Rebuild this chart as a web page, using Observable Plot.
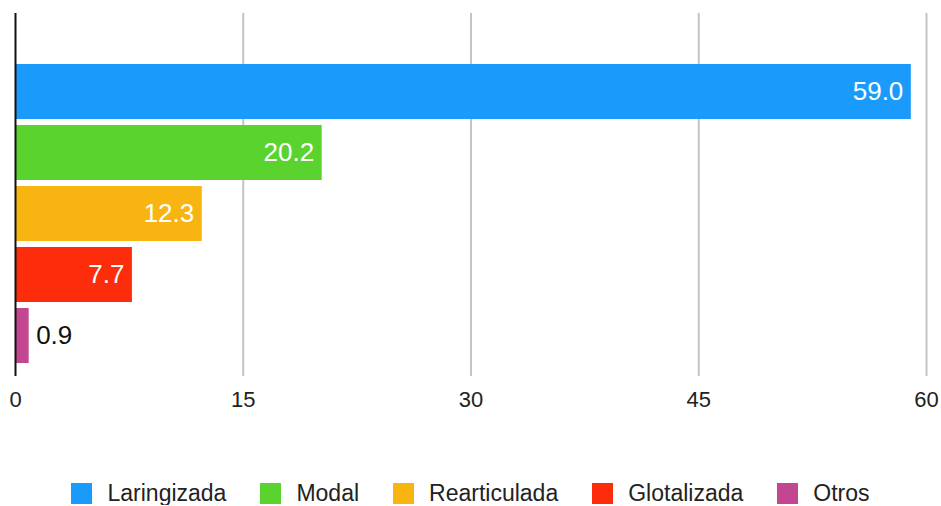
<!DOCTYPE html>
<html>
<head>
<meta charset="utf-8">
<script src="https://cdn.jsdelivr.net/npm/d3@7"></script>
<script src="https://cdn.jsdelivr.net/npm/@observablehq/plot@0.6"></script>
<style>
  html, body { margin: 0; padding: 0; background: #fff; }
  body { width: 941px; font-family: "Liberation Sans", Arial, Helvetica, sans-serif; }
  #legend { display: flex; justify-content: center; align-items: center; margin-top: 41px; height: 24px; font-size: 23px; color: #222; }
  .item { display: flex; align-items: center; margin: 0 17px; }
  .sw { width: 21px; height: 21px; margin-right: 15px; }
</style>
</head>
<body>
<div id="chart"></div>
<div id="legend"></div>
<script>
const categories = ["Laringizada", "Modal", "Rearticulada", "Glotalizada", "Otros"];
const values = [59.0, 20.2, 12.3, 7.7, 0.9];
const colors = ["#1a9bfc", "#5bd32e", "#f8b511", "#fd2c0a", "#c24690"];
const xTicks = [0, 15, 30, 45, 60];

const data = categories.map((c, i) => ({category: c, value: values[i]}));

const chart = Plot.plot({
  width: 941,
  height: 440,
  marginLeft: 15,
  marginRight: 15,
  marginTop: 13,
  marginBottom: 64,
  style: {fontFamily: "Liberation Sans, Arial, Helvetica, sans-serif", background: "#fff"},
  x: {domain: [0, 60], ticks: xTicks, tickSize: 0, tickPadding: 15, label: null},
  y: {domain: categories, paddingInner: 0.1, paddingOuter: 0.05, insetTop: 47, insetBottom: 10, axis: null},
  color: {domain: categories, range: colors},
  marks: [
    Plot.gridX(xTicks.filter(d => d > 0), {stroke: "#c4c4c4", strokeOpacity: 1, strokeWidth: 2}),
    Plot.barX(data, {x: "value", y: "category", fill: "category"}),
    Plot.ruleX([0], {stroke: "#111", strokeWidth: 2}),
    Plot.text(data.filter(d => d.value >= 5), {x: "value", y: "category", text: d => d.value.toFixed(1), textAnchor: "end", dx: -8, fill: "#fff", fontSize: 26}),
    Plot.text(data.filter(d => d.value < 5), {x: "value", y: "category", text: d => d.value.toFixed(1), textAnchor: "start", dx: 7, fill: "#111", fontSize: 26}),
    Plot.axisX({ticks: xTicks, tickSize: 0, tickPadding: 15, fontSize: 22, fill: "#222", label: null})
  ]
});
document.getElementById("chart").appendChild(chart);

const legend = document.getElementById("legend");
categories.forEach((c, i) => {
  const item = document.createElement("div");
  item.className = "item";
  const sw = document.createElement("div");
  sw.className = "sw";
  sw.style.background = colors[i];
  const t = document.createElement("span");
  t.textContent = c;
  item.appendChild(sw);
  item.appendChild(t);
  legend.appendChild(item);
});
</script>
</body>
</html>
